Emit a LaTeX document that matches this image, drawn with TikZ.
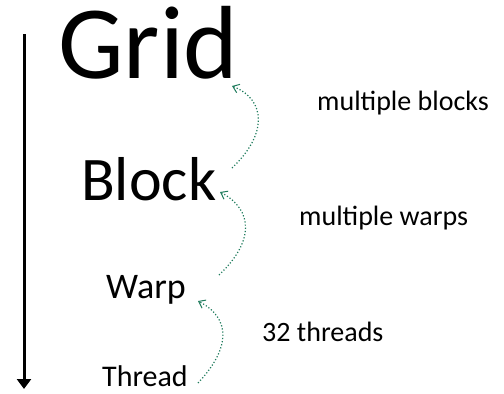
\documentclass[tikz,border=0pt]{standalone}
\usepackage{fontspec}
\setmainfont{Carlito}
\usetikzlibrary{arrows.meta}
\definecolor{arrgreen}{HTML}{1E7B5C}
\tikzset{
  lvl/.style={anchor=base west, inner sep=0pt, text=black},
  lab/.style={anchor=base west, inner sep=0pt, text=black, font=\fontsize{28}{30}\selectfont},
  up/.style={draw=arrgreen, dotted, line width=1.2pt, -{Straight Barb[length=6pt,width=9pt,line width=1pt]}},
  axis/.style={draw=black, line width=3pt, -{Triangle[width=14pt,length=10pt]}}
}
\begin{document}
\begin{tikzpicture}[x=1pt,y=-1pt]
\useasboundingbox (0,0) rectangle (504,394);
\node[lvl, font=\fontsize{104}{110}\selectfont] (grid) at (58,78) {Grid};
\node[lvl, font=\fontsize{62}{66}\selectfont] (block) at (81,200) {Block};
\node[lvl, font=\fontsize{36}{38}\selectfont] (warp) at (106,298.5) {Warp};
\node[lvl, font=\fontsize{30}{32}\selectfont] (thread) at (102,386.5) {Thread};
\node[lab] (l1) at (317,110) {multiple blocks};
\node[lab] (l2) at (299,225) {multiple warps};
\node[lab] (l3) at (262,341) {32 threads};
\coordinate (ax1) at (24,34);
\coordinate (ax2) at (24,389);
\draw[axis] (ax1) -- (ax2);
\coordinate (a1s) at (232,168);
\coordinate (a1e) at (232,86);
\coordinate (a2s) at (219,275);
\coordinate (a2e) at (220,192);
\coordinate (a3s) at (198,383);
\coordinate (a3e) at (198,301);
\draw[up] (a1s) .. controls (267,135) and (267,100) .. (a1e);
\draw[up] (a2s) .. controls (254,242) and (254,210) .. (a2e);
\draw[up] (a3s) .. controls (231,348) and (231,318) .. (a3e);
\end{tikzpicture}
\end{document}
